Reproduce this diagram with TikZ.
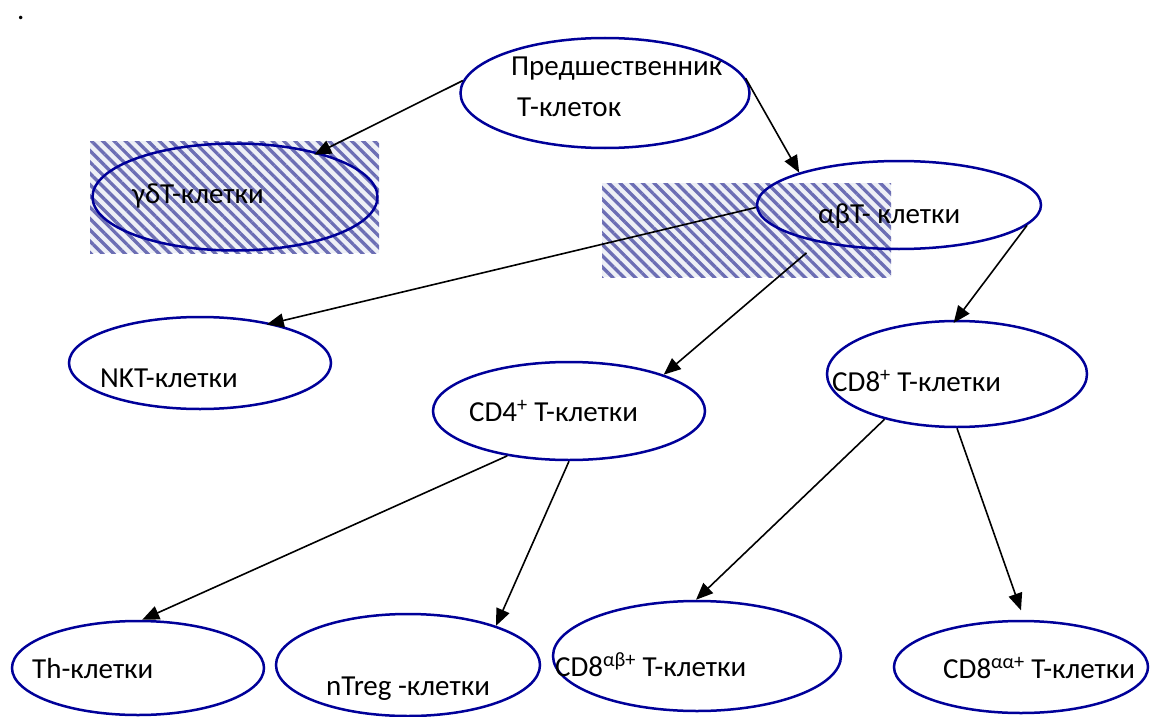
\documentclass[tikz,border=0pt]{standalone}
\usepackage{fontspec}
\setmainfont{Carlito}
\usetikzlibrary{shapes.geometric,arrows.meta,patterns.meta}
\definecolor{elc}{RGB}{0,0,153}
\definecolor{hatchc}{RGB}{108,110,180}
\definecolor{hatchbg}{RGB}{238,240,246}
\begin{document}
\begin{tikzpicture}[x=1pt,y=-1pt,
  cell/.style={ellipse, draw=elc, line width=2.5pt, inner sep=0pt},
  lbl/.style={anchor=base west, inner sep=0pt, font=\fontsize{29}{34}\selectfont},
  arr/.style={-{Triangle[length=17pt,width=14pt]}, line width=1.6pt},
  hatchbox/.style={pattern={Lines[angle=-45,distance=8pt,line width=3.3pt]}, pattern color=hatchc}]
\useasboundingbox (0,0) rectangle (1157,717);
\fill[white] (0,0) rectangle (1157,717);
% hatched backgrounds
\fill[hatchbg] (90,141) rectangle (379,253);
\fill[hatchbox] (90,141) rectangle (379,253);
\fill[hatchbg] (602,183) rectangle (891,277);
\fill[hatchbox] (602,183) rectangle (891,277);
% ellipses
\node[cell, minimum width=289pt, minimum height=110pt] (pred) at (605,93) {};
\node[cell, minimum width=285pt, minimum height=107pt] (gd) at (235,197) {};
\node[cell, minimum width=284pt, minimum height=88pt] (ab) at (899,205) {};
\node[cell, minimum width=262pt, minimum height=92pt] (nkt) at (200,363) {};
\node[cell, minimum width=272pt, minimum height=98pt] (cd4) at (569,411) {};
\node[cell, minimum width=260pt, minimum height=106pt] (cd8) at (957,374) {};
\node[cell, minimum width=252pt, minimum height=94pt] (th) at (138,668) {};
\node[cell, minimum width=264pt, minimum height=102pt] (ntreg) at (408,665) {};
\node[cell, minimum width=288pt, minimum height=110pt] (cd8ab) at (697,656) {};
\node[cell, minimum width=254pt, minimum height=92pt] (cd8aa) at (1021,667) {};
% labels
\node[lbl] (dot) at (17,20) {.};
\node[lbl] (t1) at (511,76) {Предшественник};
\node[lbl] (t2) at (517,116) {Т-клеток};
\node[lbl] (t3) at (132,203) {γδT-клетки};
\node[lbl] (t4) at (818,223) {αβT- клетки};
\node[lbl] (t5) at (100,387) {NKT-клетки};
\node[lbl] (t6) at (469,421) {CD4\textsuperscript{+} T-клетки};
\node[lbl] (t7) at (832,391) {CD8\textsuperscript{+} T-клетки};
\node[lbl] (t8) at (32,678) {Th-клетки};
\node[lbl] (t9) at (326,695) {nTreg -клетки};
\node[lbl] (t10) at (555,676) {CD8\textsuperscript{αβ+} T-клетки};
\node[lbl] (t11) at (943,678) {CD8\textsuperscript{αα+} T-клетки};
% arrows
\draw[arr, shorten >=-5pt] (pred.175) -- (gd.28);
\draw[arr] (pred.6) -- (ab.162);
\draw[arr, shorten >=-5pt] (ab.181) -- (nkt.29);
\draw[arr, shorten <=16pt] (ab.205) -- (cd4.21);
\draw[arr, shorten >=-4pt] (ab.351) -- (cd8.91);
\draw[arr] (cd4.216) -- (th.85);
\draw[arr] (cd4.270) -- (ntreg.24);
\draw[arr] (cd8.212) -- (cd8ab.91);
\draw[arr, shorten >=10pt] (cd8.270) -- (cd8aa.86);
\end{tikzpicture}
\end{document}
